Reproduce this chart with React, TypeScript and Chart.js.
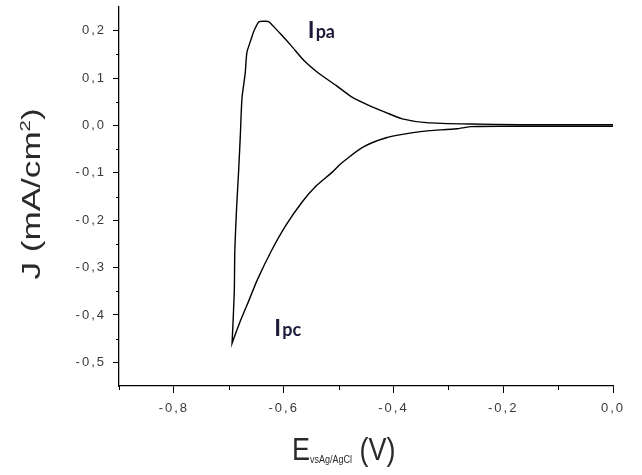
import { useEffect, useRef } from "react";
import { Chart, registerables } from "chart.js";

Chart.register(...registerables);

// Cyclic voltammogram: cathodic sweep from 0 V down to the switching potential
const cathodicE = [0, -0.1, -0.2, -0.258, -0.285, -0.334, -0.358, -0.389, -0.413, -0.438, -0.457, -0.48, -0.499, -0.511, -0.541, -0.566, -0.596, -0.623, -0.648, -0.666, -0.68, -0.69, -0.694];
const cathodicJ = [-0.0018, -0.0018, -0.0018, -0.0025, -0.007, -0.011, -0.014, -0.02, -0.026, -0.036, -0.047, -0.066, -0.084, -0.098, -0.128, -0.161, -0.211, -0.266, -0.326, -0.377, -0.416, -0.447, -0.46];

// ...and the anodic sweep back to 0 V
const anodicE = [-0.694, -0.69, -0.689, -0.686, -0.682, -0.679, -0.676, -0.67, -0.667, -0.659, -0.654, -0.645, -0.634, -0.627, -0.608, -0.586, -0.563, -0.535, -0.504, -0.477, -0.444, -0.413, -0.384, -0.34, -0.261, -0.17, 0];
const anodicJ = [-0.46, -0.353, -0.264, -0.18, -0.095, -0.022, 0.057, 0.111, 0.154, 0.183, 0.2, 0.219, 0.22, 0.219, 0.196, 0.168, 0.137, 0.109, 0.084, 0.061, 0.042, 0.027, 0.014, 0.006, 0.003, 0.0018, 0.0018];

const xTicks = [-0.8, -0.6, -0.4, -0.2, 0.0];
const xMinorTicks = [-0.9, -0.7, -0.5, -0.3, -0.1];
const yTicks = [0.2, 0.1, 0.0, -0.1, -0.2, -0.3, -0.4, -0.5];
const yMinorTicks = [0.15, 0.05, -0.05, -0.15, -0.25, -0.35, -0.45];

const peakLabels = [
  { main: "I", sub: "pa", e: -0.556, j: 0.184 },
  { main: "I", sub: "pc", e: -0.617, j: -0.444 },
];

const FONT = "'Liberation Sans', Arial, sans-serif";
const LABEL_FONT = "Lato, 'Open Sans', sans-serif";

const fmt = (v: number) => {
  const s = Math.abs(v) < 1e-9 ? "0.0" : v.toFixed(1);
  return s.replace(".", ",");
};

const decorations = {
  id: "decorations",
  beforeDraw(chart: any) {
    // Origin-style spaced tick numbers
    (chart.ctx as any).letterSpacing = "2px";
  },
  beforeDatasetsDraw(chart: any) {
    (chart.ctx as any).letterSpacing = "0px";
  },
  afterDraw(chart: any) {
    const { ctx, chartArea, scales } = chart;
    const xs = scales.x;
    const ys = scales.y;
    ctx.save();
    ctx.letterSpacing = "0px";
    ctx.strokeStyle = "#000";
    ctx.lineWidth = 1;

    // minor ticks
    for (const v of xMinorTicks) {
      const px = Math.round(xs.getPixelForValue(v)) + 0.5;
      ctx.beginPath();
      ctx.moveTo(px, chartArea.bottom);
      ctx.lineTo(px, chartArea.bottom + 4);
      ctx.stroke();
    }
    for (const v of yMinorTicks) {
      const py = Math.round(ys.getPixelForValue(v)) + 0.5;
      ctx.beginPath();
      ctx.moveTo(chartArea.left, py);
      ctx.lineTo(chartArea.left - 3, py);
      ctx.stroke();
    }

    // y-axis title, stretched along its length
    ctx.fillStyle = "#2a2a2a";
    ctx.textBaseline = "alphabetic";
    ctx.textAlign = "left";
    ctx.save();
    ctx.translate(40, 194);
    ctx.rotate(-Math.PI / 2);
    ctx.scale(1.35, 1);
    const bigY = `26px ${FONT}`;
    const supY = `15px ${FONT}`;
    ctx.font = bigY;
    const p1 = "J (mA/cm";
    const w1 = ctx.measureText(p1).width;
    ctx.font = supY;
    const w2 = ctx.measureText("2").width;
    ctx.font = bigY;
    const w3 = ctx.measureText(")").width;
    let x0 = -(w1 + w2 + w3) / 2;
    ctx.fillText(p1, x0, 0);
    x0 += w1;
    ctx.font = supY;
    ctx.fillText("2", x0, -10);
    x0 += w2;
    ctx.font = bigY;
    ctx.fillText(")", x0, 0);
    ctx.restore();

    // x-axis title with subscript, slightly stretched vertically
    ctx.save();
    const baseY = 460;
    ctx.translate(292, baseY);
    ctx.scale(1, 1.15);
    const bigX = `27px ${FONT}`;
    const subX = `9px ${FONT}`;
    let cx = 0;
    ctx.font = bigX;
    ctx.fillText("E", cx, 0);
    cx += ctx.measureText("E").width;
    ctx.font = subX;
    ctx.fillText("vsAg/AgCl", cx, 3);
    cx += ctx.measureText("vsAg/AgCl").width;
    ctx.font = bigX;
    ctx.fillText(" (V)", cx, 0);
    ctx.restore();

    // peak labels
    ctx.fillStyle = "#1c1c3a";
    for (const l of peakLabels) {
      const px = xs.getPixelForValue(l.e);
      const py = ys.getPixelForValue(l.j);
      ctx.font = `bold 23px ${LABEL_FONT}`;
      ctx.fillText(l.main, px, py);
      const wm = ctx.measureText(l.main).width;
      ctx.font = `bold 18px ${LABEL_FONT}`;
      ctx.fillText(l.sub, px + wm + 1, py);
    }
    ctx.restore();
  },
};

export default function App() {
  const ref = useRef<HTMLCanvasElement>(null);

  useEffect(() => {
    if (!ref.current) return;
    const points = [
      ...cathodicE.map((e, i) => ({ x: e, y: cathodicJ[i] })),
      ...anodicE.map((e, i) => ({ x: e, y: anodicJ[i] })),
    ];
    const chart = new Chart(ref.current, {
      type: "scatter",
      data: {
        datasets: [
          {
            data: points,
            showLine: true,
            borderColor: "#000",
            borderWidth: 1.4,
            pointRadius: 0,
            tension: 0.2,
          },
        ],
      },
      plugins: [decorations],
      options: {
        animation: false,
        responsive: false,
        devicePixelRatio: 1,
        layout: { padding: { top: 7, right: 29, left: 0, bottom: 0 } },
        plugins: { legend: { display: false }, tooltip: { enabled: false } },
        scales: {
          x: {
            type: "linear",
            min: -0.9,
            max: 0,
            afterBuildTicks: (s: any) => {
              s.ticks = xTicks.map((v) => ({ value: v }));
            },
            afterFit: (s: any) => {
              s.height = 89;
              s.paddingLeft = 0;
              s.paddingRight = 0;
            },
            grid: { drawOnChartArea: false, tickLength: 7, tickColor: "#000", tickWidth: 1 },
            border: { display: true, color: "#000", width: 1.3 },
            ticks: {
              padding: 8,
              color: "#3a3a3a",
              font: { size: 13, family: FONT },
              maxRotation: 0,
              callback: (v: any) => fmt(Number(v)),
            },
          },
          y: {
            type: "linear",
            min: -0.55,
            max: 0.25,
            afterBuildTicks: (s: any) => {
              s.ticks = yTicks.map((v) => ({ value: v }));
            },
            afterFit: (s: any) => {
              s.width = 119;
              s.paddingTop = 0;
              s.paddingBottom = 0;
            },
            grid: { drawOnChartArea: false, tickLength: 6, tickColor: "#000", tickWidth: 1 },
            border: { display: true, color: "#000", width: 1.3 },
            ticks: {
              padding: 7,
              color: "#3a3a3a",
              font: { size: 13, family: FONT },
              callback: (v: any) => fmt(Number(v)),
            },
          },
        },
      },
    });
    return () => chart.destroy();
  }, []);

  return (
    <div style={{ position: "fixed", left: 0, top: 0, width: 642, height: 475, background: "#fff" }}>
      <canvas ref={ref} width={642} height={475} />
    </div>
  );
}
